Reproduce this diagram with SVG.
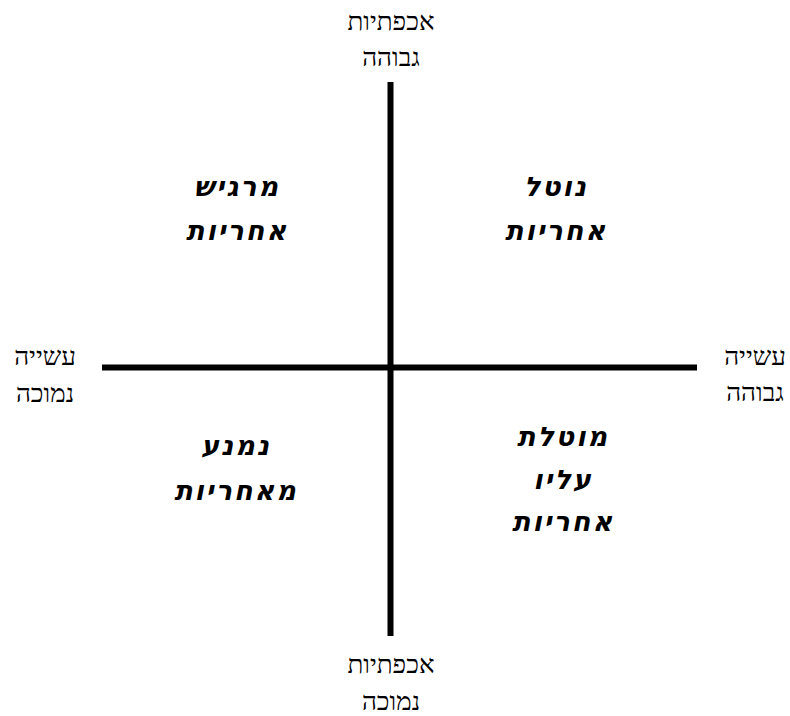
<svg xmlns="http://www.w3.org/2000/svg" width="790" height="716" viewBox="0 0 790 716">
<style>
.ax{font-family:"Liberation Serif","DejaVu Serif",serif;font-size:26px;fill:#000;text-anchor:middle}
.q{font-family:"DejaVu Sans","Liberation Sans",sans-serif;font-size:27px;font-weight:bold;font-style:italic;letter-spacing:2px;fill:#000;text-anchor:middle}
.axis{stroke:#000;stroke-width:6;fill:none}
</style>
<rect width="790" height="716" fill="#fff"/>
<g id="connectors">
<line class="axis" x1="390.5" y1="82" x2="390.5" y2="636"/>
<line class="axis" x1="102" y1="367.5" x2="697" y2="367.5"/>
</g>
<g id="axis-top"><text class="ax" x="391" y="30">אכפתיות</text><text class="ax" x="391" y="66">גבוהה</text></g>
<g id="axis-bottom"><text class="ax" x="391" y="673">אכפתיות</text><text class="ax" x="391" y="710">נמוכה</text></g>
<g id="axis-left"><text class="ax" x="45" y="365">עשייה</text><text class="ax" x="45" y="402">נמוכה</text></g>
<g id="axis-right"><text class="ax" x="755" y="365">עשייה</text><text class="ax" x="755" y="401">גבוהה</text></g>
<g id="q-top-left"><text class="q" x="237" y="196">מרגיש</text><text class="q" x="237" y="240">אחריות</text></g>
<g id="q-top-right"><text class="q" x="556" y="196">נוטל</text><text class="q" x="556" y="240">אחריות</text></g>
<g id="q-bottom-left"><text class="q" x="236" y="455">נמנע</text><text class="q" x="236" y="500">מאחריות</text></g>
<g id="q-bottom-right"><text class="q" x="563" y="446">מוטלת</text><text class="q" x="563" y="489">עליו</text><text class="q" x="563" y="531">אחריות</text></g>
</svg>
